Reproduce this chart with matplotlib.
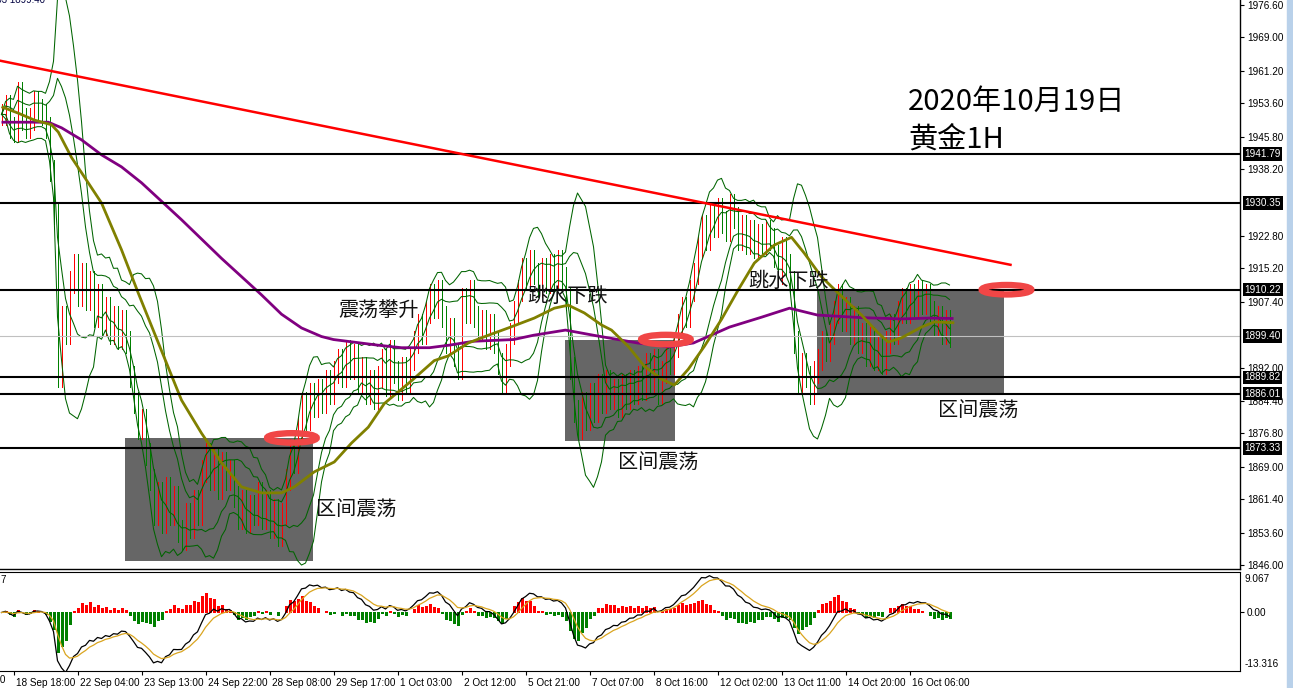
import numpy as np
import pandas as pd
import matplotlib
matplotlib.use("Agg")
import matplotlib.pyplot as plt
from matplotlib.patches import Rectangle, Ellipse
from matplotlib.transforms import blended_transform_factory, ScaledTranslation

# ---------------- data ----------------
# closing prices, one per bar (each bar ~2h), left to right
closes = [
    1951, 1953, 1948, 1947, 1956, 1950, 1948, 1950, 1954, 1952, 1951, 1948,
    1938, 1928, 1890, 1904, 1900, 1912, 1916, 1909, 1914, 1908, 1912, 1904,
    1909, 1902, 1906, 1900, 1904, 1899, 1903, 1898, 1890, 1884, 1878, 1880,
    1872, 1866, 1858, 1863, 1856, 1864, 1858, 1862, 1854, 1852, 1858, 1855,
    1861, 1858, 1868, 1872, 1866, 1871, 1864, 1870, 1866, 1868, 1862, 1857,
    1861, 1856, 1860, 1858, 1863, 1857, 1861, 1855, 1859, 1853, 1858, 1866,
    1873, 1870, 1878, 1884, 1880, 1886, 1883, 1887, 1884, 1889, 1886, 1891,
    1894, 1890, 1896, 1892, 1895, 1889, 1892, 1886, 1889, 1885, 1890, 1894,
    1888, 1896, 1891, 1887, 1892, 1889, 1894, 1898, 1902, 1900, 1905, 1909,
    1906, 1910, 1904, 1898, 1901, 1895, 1892, 1908, 1905, 1910, 1904, 1901,
    1903, 1899, 1902, 1898, 1893, 1889, 1895, 1900, 1905, 1910, 1915, 1913,
    1917, 1914, 1911, 1915, 1912, 1916, 1913, 1917, 1913, 1908, 1892, 1882,
    1878, 1884, 1880, 1886, 1882, 1888, 1884, 1889, 1885, 1887, 1883, 1888,
    1885, 1889, 1886, 1890, 1887, 1893, 1889, 1894, 1886, 1891, 1895, 1893,
    1897, 1902, 1906, 1904, 1910, 1914, 1920, 1925, 1922, 1928, 1925, 1929,
    1926, 1924, 1930, 1927, 1922, 1925, 1921, 1924, 1920, 1923, 1921, 1924,
    1922, 1918, 1914, 1920, 1916, 1912, 1898, 1889, 1893, 1890, 1886, 1891,
    1894, 1898, 1896, 1900, 1905, 1909, 1903, 1906, 1900, 1904, 1898, 1900,
    1895, 1899, 1894, 1897, 1893, 1898, 1902, 1900, 1905, 1908, 1905, 1909,
    1906, 1910, 1907, 1909, 1905, 1902, 1904, 1900, 1903, 1899.4,
]

# long moving average (purple): bar position, price
purple_x = [0, 11.7, 15, 20, 25, 30, 35, 45, 55, 65, 70, 75, 80, 83, 94, 100, 107,
            112, 118, 128, 133, 141, 148, 159, 167, 173, 182, 190, 197, 204, 215,
            225, 232, 238]
purple_p = [1949.2, 1949.2, 1947.9, 1945.1, 1941.6, 1938.8, 1935.1, 1926.5, 1917.5,
            1909.0, 1904.5, 1901.3, 1899.3, 1898.6, 1897.3, 1896.7, 1896.7, 1897.3,
            1898.2, 1898.6, 1899.6, 1900.8, 1899.6, 1897.8, 1896.9, 1897.8, 1901.5,
            1903.8, 1905.9, 1904.3, 1903.7, 1903.4, 1903.6, 1903.5]

# medium moving average (olive): bar position, price
olive_x = [0, 4.2, 8.2, 12.5, 14.2, 17.5, 25, 30, 34.2, 40, 45, 50, 55, 60, 65, 70,
           73.2, 78.2, 83.2, 87.5, 91.7, 95.7, 102.5, 108.2, 111.7, 116.7, 121.7,
           126.7, 133.2, 138.2, 141.7, 145.7, 150, 152.5, 156.7, 160.7, 165, 168.2,
           171.7, 175.7, 180, 184.2, 188.2, 193.2, 197.5, 200.7, 205, 209.2, 215,
           219.2, 221.7, 225, 230, 233.2, 238.2]
olive_p = [1952.8, 1951.3, 1949.7, 1948.6, 1946.9, 1941.0, 1930.4, 1919.5, 1909.4,
           1896.0, 1884.5, 1876.8, 1869.9, 1864.3, 1862.9, 1862.9, 1864.3, 1867.8,
           1870.1, 1874.5, 1878.2, 1883.7, 1889.0, 1893.7, 1894.8, 1897.8, 1899.6,
           1901.3, 1903.6, 1905.9, 1906.6, 1904.8, 1902.0, 1900.8, 1897.0, 1892.4,
           1889.4, 1888.0, 1891.7, 1897.0, 1903.3, 1910.2, 1916.4, 1920.6, 1922.4,
           1918.7, 1913.2, 1909.4, 1904.3, 1900.1, 1898.0, 1899.0, 1901.5, 1902.7,
           1902.5]

# support / resistance levels and current price
levels = [1941.79, 1930.35, 1910.22, 1889.82, 1886.01, 1873.33]
current_price = 1899.40

# right-axis price ticks
price_ticks = [1976.60, 1969.00, 1961.20, 1953.60, 1945.80, 1938.20, 1922.80,
               1915.20, 1907.40, 1892.00, 1884.40, 1876.80, 1869.00, 1861.40,
               1853.60, 1846.00]

# time axis
date_labels = ["18 Sep 18:00", "22 Sep 04:00", "23 Sep 13:00", "24 Sep 22:00",
               "28 Sep 08:00", "29 Sep 17:00", "1 Oct 03:00", "2 Oct 12:00",
               "5 Oct 21:00", "7 Oct 07:00", "8 Oct 16:00", "12 Oct 02:00",
               "13 Oct 11:00", "14 Oct 20:00", "16 Oct 06:00"]
first_label_bar = 3.225
label_step = 16

# drawn objects (bar position, price)
trend_x = [-0.25, 252.25]
trend_p = [1963.5, 1916.0]
boxes = [  # x0, x1, p_low, p_high
    (30.75, 77.75, 1847.1, 1875.7),
    (140.75, 168.25, 1875.0, 1898.5),
    (203.75, 250.5, 1885.7, 1910.2),
]
rings = [  # x center, price center
    (72.6, 1875.7),
    (166.1, 1898.6),
    (251.25, 1910.2),
]
notes = [  # text, x, price (left / centre)
    ("震荡攀升", 84.25, 1905.5),
    ("跳水下跌", 131.5, 1908.7),
    ("跳水下跌", 186.75, 1912.2),
    ("区间震荡", 234.0, 1882.0),
    ("区间震荡", 154.0, 1869.8),
    ("区间震荡", 78.75, 1858.8),
]

# MACD scale extremes shown on the panel axis
macd_top, macd_bottom = 9.067, -13.316

# ---------------- figure ----------------
W, H = 1293, 688
plt.rcParams['font.family'] = ['Liberation Sans', 'DejaVu Sans']
fig = plt.figure(figsize=(W / 100, H / 100), dpi=100)
fig.patch.set_facecolor('white')
fig.patches.append(Rectangle((1287 / W, 0), 6 / W, 1, transform=fig.transFigure,
                             color='#B9D1EA', zorder=0))

ax = fig.add_axes([0, 1 - 569 / H, 1240 / W, 569 / H])
axm = fig.add_axes([0, 1 - 671 / H, 1240 / W, 99 / H])
XL = (-0.375, 309.625)

c = np.array(closes, dtype=float)
x = np.arange(len(c))
o = np.r_[c[0], c[:-1]]
wick = 2.5
hi = np.maximum(o, c) + wick
lo = np.minimum(o, c) - wick
up = c >= o

# background boxes
for x0, x1, pl, ph in boxes:
    ax.add_patch(Rectangle((x0, pl), x1 - x0, ph - pl, color='#666666', zorder=0.5, lw=0))

# price bars
ax.vlines(x[up], lo[up], hi[up], color='#FF0000', lw=0.6, zorder=1.5, antialiased=False)
ax.vlines(x[~up], lo[~up], hi[~up], color='#008000', lw=0.6, zorder=1.5, antialiased=False)

# Bollinger bands from closes
s = pd.Series(c)
mid = s.rolling(10, min_periods=1).mean()
sd = s.rolling(10, min_periods=1).std(ddof=0)
for k in (2, 1):
    ax.plot(x, mid + k * sd, color='#006400', lw=0.75, zorder=2)
    ax.plot(x, mid - k * sd, color='#006400', lw=0.75, zorder=2)

# moving averages
ax.plot(purple_x, purple_p, color='#800080', lw=2.0, zorder=2.5, solid_capstyle='butt')
ax.plot(olive_x, olive_p, color='#808000', lw=2.0, zorder=2.6, solid_capstyle='butt')

# levels
ax.axhline(current_price, color='#C0C0C0', lw=0.8, zorder=2.2)
for lv in levels:
    ax.axhline(lv, color='black', lw=1.5, zorder=3)

# trend line
ax.plot(trend_x, trend_p, color='#FF0000', lw=1.8, zorder=3.2)

# rings
for xc, pc in rings:
    ax.add_patch(Ellipse((xc, pc), 12.4, 2.2, fill=False, ec='#F04646', lw=4.6, zorder=4))

# notes
for txt, nx, npx in notes:
    ax.text(nx, npx, txt, fontsize=14.5, family=['Noto Sans CJK SC'], color='#111111',
            ha='left', va='center', zorder=5)

fig.text(908 / W, 1 - 102 / H, "2020年10月19日", fontsize=21, family=['Noto Sans CJK SC'],
         ha='left', va='center')
fig.text(908 / W, 1 - 140 / H, "黄金1H", fontsize=21, family=['Noto Sans CJK SC'],
         ha='left', va='center')

ax.set_xlim(*XL)
ax.set_ylim(1845.18, 1977.65)
for sp in ('left', 'top'):
    ax.spines[sp].set_visible(False)
for sp in ('right', 'bottom'):
    ax.spines[sp].set_linewidth(1.0)
ax.set_xticks([])
ax.yaxis.tick_right()
ax.set_yticks(price_ticks)
ax.set_yticklabels([f"{v:.2f}" for v in price_ticks])
ax.tick_params(axis='y', direction='out', length=3, width=0.8, pad=2, labelsize=7.2)

tr = blended_transform_factory(ax.transAxes, ax.transData)
for lv in levels + [current_price]:
    ax.text(1.0035, lv, f"{lv:.2f}", transform=tr, fontsize=7.2, color='white',
            ha='left', va='center', zorder=6, clip_on=False,
            bbox=dict(facecolor='black', edgecolor='none', pad=1.2))

# header remnants (cut by the top edge as in the screenshot)
fig.text(45 / W, 1.0, "1899.03 1899.40", fontsize=7, color='#000040', ha='right', va='center')

# ---------------- MACD panel ----------------
ema_f = s.ewm(span=6, adjust=False).mean()
ema_s = s.ewm(span=13, adjust=False).mean()
macd = ema_f - ema_s
signal = macd.ewm(span=5, adjust=False).mean()
hist = 1.5 * (macd - signal)
pos = hist.values >= 0
axm.vlines(x[pos], 0, hist.values[pos], color='#FF0000', lw=1.0, antialiased=False)
axm.vlines(x[~pos], 0, hist.values[~pos], color='#008000', lw=1.0, antialiased=False)
axm.plot(x, macd, color='black', lw=0.9)
axm.plot(x, signal, color='#DAA520', lw=0.9)

axm.set_xlim(*XL)
axm.set_ylim(-13.51, 9.35)
axm.spines['left'].set_visible(False)
axm.yaxis.tick_right()
axm.set_yticks([0])
axm.set_yticklabels(["0.00"])
axm.tick_params(axis='y', direction='out', length=3, width=0.8, pad=2, labelsize=7.2)
trm = blended_transform_factory(axm.transAxes, axm.transAxes)
axm.text(1.004, 0.93, f"{macd_top:.3f}", transform=trm, fontsize=7.2, ha='left', va='center')
axm.text(1.004, 0.07, f"{macd_bottom:.3f}", transform=trm, fontsize=7.2, ha='left', va='center')
fig.text(0, 1 - 580 / H, "7", fontsize=7, ha='left', va='center')

xt = [first_label_bar + label_step * k for k in range(len(date_labels))]
axm.set_xticks(xt)
axm.set_xticklabels(date_labels)
axm.tick_params(axis='x', direction='out', length=3, width=0.8, pad=2, labelsize=7.2)
off = ScaledTranslation(2 / 100, 0, fig.dpi_scale_trans)
for lbl in axm.get_xticklabels():
    lbl.set_horizontalalignment('left')
    lbl.set_transform(lbl.get_transform() + off)
# previous time label, only its last character shows at the left edge
fig.text(5 / W, 1 - 680 / H, "17 Sep 09:00", fontsize=7.2, ha='right', va='center')

fig.savefig("out.png", dpi=100, facecolor='white')
